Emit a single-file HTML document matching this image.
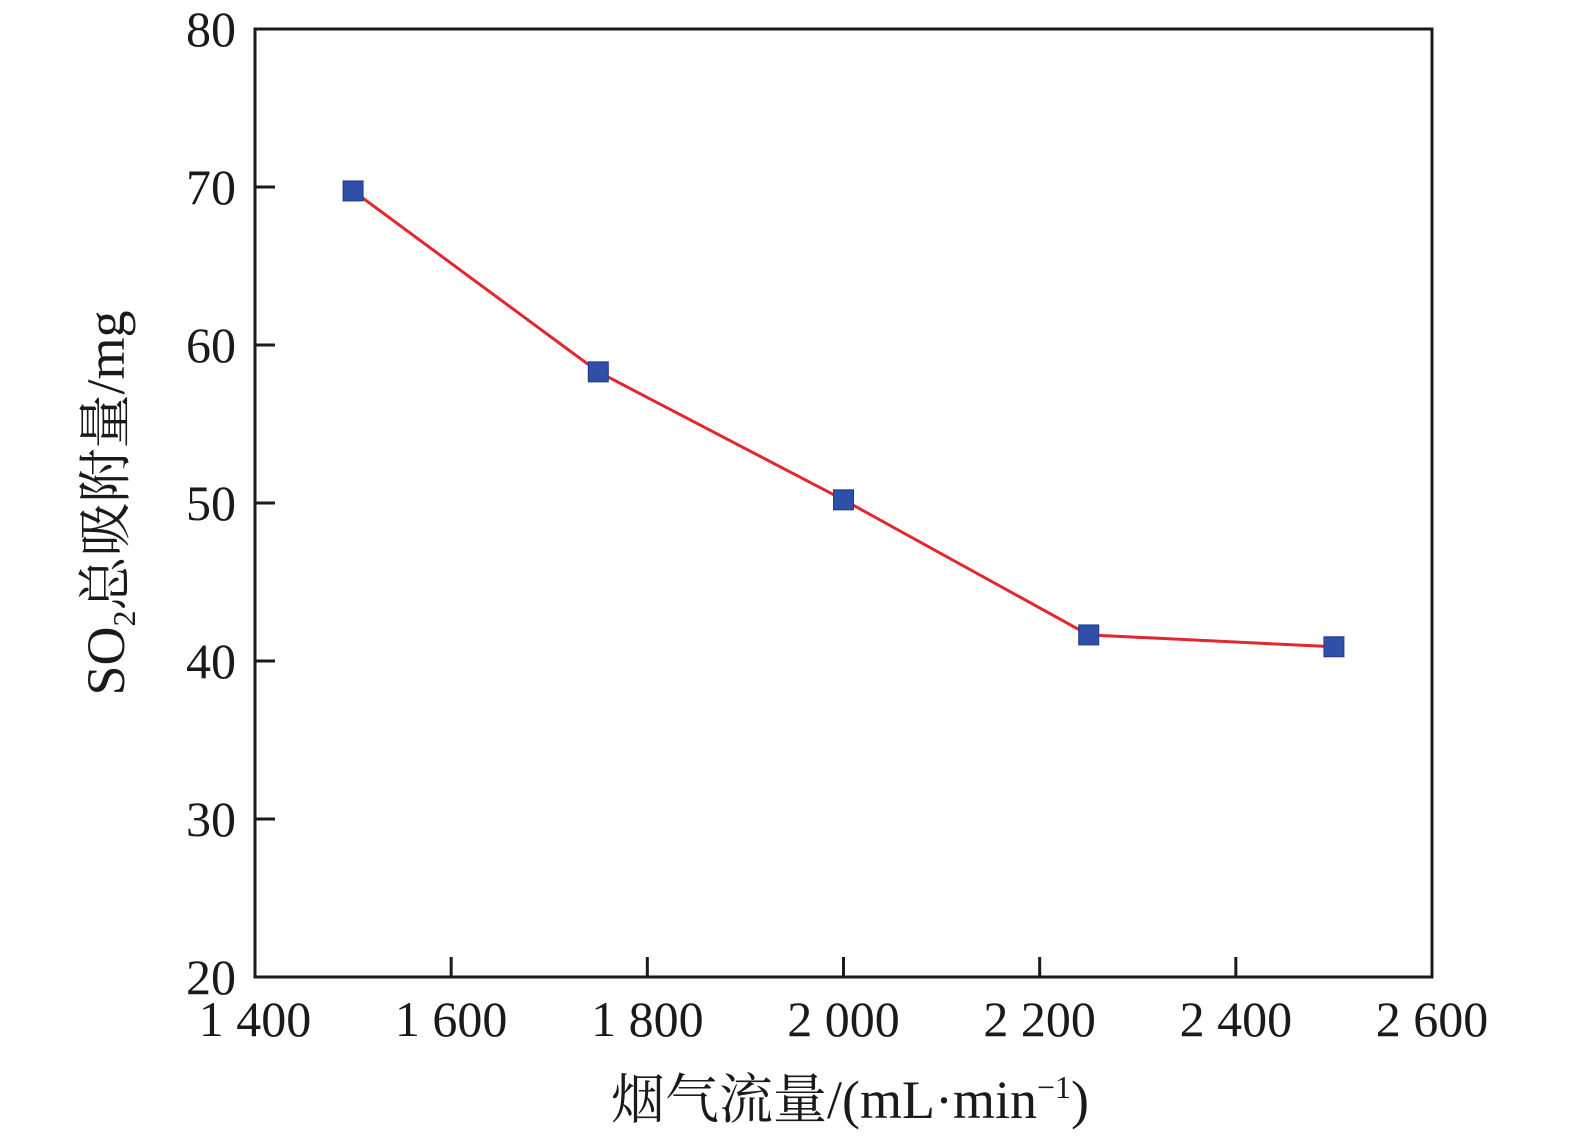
<!DOCTYPE html>
<html><head><meta charset="utf-8"><style>
html,body{margin:0;padding:0;background:#fff;}
svg{display:block;font-family:"Liberation Serif","Noto Serif CJK SC",serif;}
</style></head><body>
<svg id="chart" width="1575" height="1140" viewBox="0 0 1575 1140">
<rect x="255" y="29" width="1177" height="948" fill="none" stroke="#1a1a1a" stroke-width="3"/>
<g id="ticks"></g>
<g id="series"></g>
<text x="850" y="1118" text-anchor="middle" font-size="54" fill="#1a1a1a">烟气流量/(mL·min<tspan font-size="32" dy="-20">−1</tspan><tspan dy="20">)</tspan></text>
<text transform="translate(124,503) rotate(-90)" text-anchor="middle" font-size="54" fill="#1a1a1a">SO<tspan font-size="32" dy="11">2</tspan><tspan dy="-11">总吸附量/mg</tspan></text>
</svg>
<script>
const categories = [1500, 1750, 2000, 2250, 2500];
const values = [69.75, 58.3, 50.2, 41.65, 40.9];
const xTicks = [1400, 1600, 1800, 2000, 2200, 2400, 2600];
const xTickLabels = ["1 400", "1 600", "1 800", "2 000", "2 200", "2 400", "2 600"];
const yTicks = [20, 30, 40, 50, 60, 70, 80];

const NS = "http://www.w3.org/2000/svg";
const X0 = 255, X1 = 1432, Y0 = 977, Y1 = 29;
function xs(v){ return X0 + (v - 1400) / 1200 * (X1 - X0); }
function ys(v){ return Y0 - (v - 20) / 60 * (Y0 - Y1); }
function mk(tag, attrs, parent){
  const e = document.createElementNS(NS, tag);
  for (const k in attrs) e.setAttribute(k, attrs[k]);
  parent.appendChild(e); return e;
}
const tg = document.getElementById('ticks');
xTicks.forEach((t, i) => {
  const x = xs(t);
  if (i > 0 && i < xTicks.length - 1) {
    const l = mk('line', {x1:x, x2:x, y1:Y0, y2:Y0-20, stroke:'#1a1a1a','stroke-width':3}, tg);
    
    
  }
  const tx = mk('text', {x:x, y:1036, 'text-anchor':'middle', 'font-size':50, fill:'#1a1a1a'}, tg);
  tx.textContent = xTickLabels[i];
  
  
});
yTicks.forEach((t, i) => {
  const y = ys(t);
  if (i > 0 && i < yTicks.length - 1) {
    const l = mk('line', {x1:X0, x2:X0+20, y1:y, y2:y, stroke:'#1a1a1a','stroke-width':3}, tg);
    
    
  }
  const tx = mk('text', {x:236, y:y+17, 'text-anchor':'end', 'font-size':50, fill:'#1a1a1a'}, tg);
  tx.textContent = t;
  
  
});
const sg = document.getElementById('series');
const pts = categories.map((c, i) => xs(c) + ',' + ys(values[i])).join(' ');
const line = mk('polyline', {points:pts, fill:'none', stroke:'#e0282e', 'stroke-width':3}, sg);


categories.forEach((c, i) => {
  const r = mk('rect', {x:xs(c)-10, y:ys(values[i])-10, width:20, height:20, fill:'#2f4fa8', stroke:'#1e3a8a', 'stroke-width':1}, sg);
  
  
});
</script>
</body></html>
